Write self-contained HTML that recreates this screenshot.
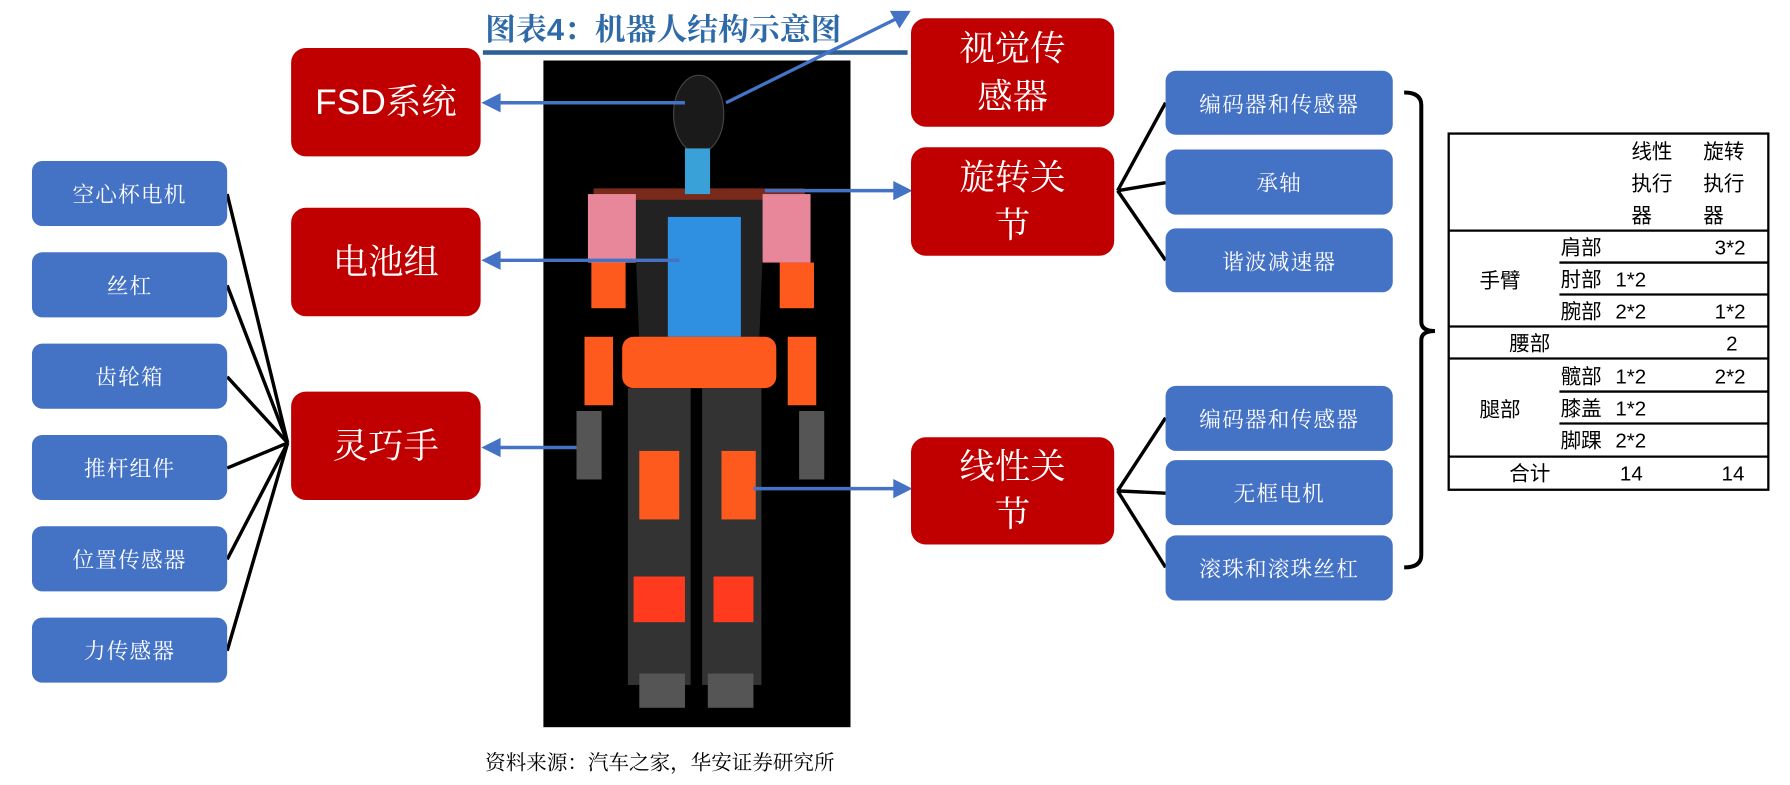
<!DOCTYPE html>
<html><head><meta charset="utf-8"><style>
html,body{margin:0;padding:0;background:#fff;width:1790px;height:785px;overflow:hidden}
#w{position:absolute;left:0;top:0;width:1568px;height:688px;transform:scale(1.1416);transform-origin:0 0;font-family:"Liberation Sans","Noto Sans CJK SC",sans-serif}
.r{position:absolute;background:#c00000;border-radius:13px;color:#fff;display:flex;align-items:center;justify-content:center;text-align:center;font-size:31px;line-height:42px;font-family:"Liberation Sans","Noto Serif CJK SC",sans-serif}
.b{position:absolute;background:#4472c4;border-radius:9px;color:#fff;display:flex;align-items:center;justify-content:center;font-size:19px;font-family:"Liberation Sans","Noto Serif CJK SC",sans-serif;letter-spacing:1px}
.t{position:absolute;font-size:18px;color:#000;line-height:24px}
</style></head><body><div id="w">
<div style="position:absolute;left:425px;top:4px;font-size:27px;font-weight:bold;color:#2e6aa8;font-family:'Liberation Sans','Noto Serif CJK SC',sans-serif;white-space:nowrap">图表4：机器人结构示意图</div>
<div style="position:absolute;left:423px;top:44px;width:372px;height:4px;background:#2e5f94"></div>
<svg style="position:absolute;left:0;top:0" width="1568" height="688">
<rect x="476" y="53" width="269" height="584" fill="#000"/>
<rect x="520" y="165" width="185" height="20" fill="#7a2a1a"/>
<path d="M555 175 L670 175 L665 300 L560 300 Z" fill="#222"/>
<ellipse cx="612" cy="100" rx="22" ry="34" fill="#1a1a1a" stroke="#444"/>
<rect x="600" y="130" width="22" height="40" fill="#3aa0d8"/>
<rect x="585" y="190" width="64" height="105" fill="#2f8fe0"/>
<rect x="515" y="170" width="42" height="60" fill="#e8869a"/>
<rect x="668" y="170" width="42" height="60" fill="#e8869a"/>
<rect x="518" y="230" width="30" height="40" fill="#ff5a1e"/>
<rect x="683" y="230" width="30" height="40" fill="#ff5a1e"/>
<rect x="512" y="295" width="25" height="60" fill="#ff5a1e"/>
<rect x="690" y="295" width="25" height="60" fill="#ff5a1e"/>
<rect x="505" y="360" width="22" height="60" fill="#555"/>
<rect x="700" y="360" width="22" height="60" fill="#555"/>
<rect x="545" y="295" width="135" height="45" rx="10" fill="#ff5a1e"/>
<rect x="550" y="340" width="55" height="260" fill="#333"/>
<rect x="615" y="340" width="52" height="260" fill="#333"/>
<rect x="560" y="395" width="35" height="60" fill="#ff5a1e"/>
<rect x="632" y="395" width="30" height="60" fill="#ff5a1e"/>
<rect x="555" y="505" width="45" height="40" fill="#ff3a1e"/>
<rect x="625" y="505" width="35" height="40" fill="#ff3a1e"/>
<rect x="560" y="590" width="40" height="30" fill="#555"/>
<rect x="620" y="590" width="40" height="30" fill="#555"/>
<g stroke="#4472c4" stroke-width="3" fill="#4472c4">
<line x1="600" y1="90" x2="435" y2="90"/><polygon points="425,90 437,84 437,96"/>
<line x1="636" y1="90" x2="786" y2="16"/><polygon points="795,11 782,11 788,22"/>
<line x1="670" y1="167" x2="785" y2="167"/><polygon points="796,167 784,161 784,173"/>
<line x1="595" y1="228" x2="435" y2="228"/><polygon points="425,228 437,222 437,234"/>
<line x1="505" y1="392" x2="435" y2="392"/><polygon points="425,392 437,386 437,398"/>
<line x1="660" y1="428" x2="785" y2="428"/><polygon points="796,428 784,422 784,434"/>
</g>
<g stroke="#000" stroke-width="3" fill="none">
<line x1="199" y1="170" x2="252" y2="388"/><line x1="199" y1="250" x2="252" y2="388"/>
<line x1="199" y1="330" x2="252" y2="388"/><line x1="199" y1="410" x2="252" y2="388"/>
<line x1="199" y1="490" x2="252" y2="388"/><line x1="199" y1="570" x2="252" y2="388"/>
<line x1="979" y1="167" x2="1021" y2="90"/><line x1="979" y1="167" x2="1021" y2="160"/><line x1="979" y1="167" x2="1021" y2="228"/>
<line x1="979" y1="430" x2="1021" y2="366"/><line x1="979" y1="430" x2="1021" y2="432"/><line x1="979" y1="430" x2="1021" y2="497"/>
<path d="M1230 81 Q1245 81 1245 92 L1245 282 Q1245 290 1257 290 Q1245 290 1245 298 L1245 486 Q1245 497 1230 497" stroke-width="3.5"/>
</g>
<g stroke="#000" stroke-width="2" fill="none">
<rect x="1269" y="117" width="280" height="312"/>
<line x1="1269" y1="202" x2="1549" y2="202"/>
<line x1="1366" y1="230" x2="1549" y2="230"/><line x1="1366" y1="258" x2="1549" y2="258"/>
<line x1="1269" y1="286" x2="1549" y2="286"/><line x1="1269" y1="314" x2="1549" y2="314"/>
<line x1="1366" y1="343" x2="1549" y2="343"/><line x1="1366" y1="371" x2="1549" y2="371"/>
<line x1="1269" y1="400" x2="1549" y2="400"/>
</g>
</svg>
<div class="r" style="left:255px;top:42px;width:166px;height:95px">FSD系统</div>
<div class="r" style="left:255px;top:182px;width:166px;height:95px">电池组</div>
<div class="r" style="left:255px;top:343px;width:166px;height:95px">灵巧手</div>
<div class="r" style="left:798px;top:16px;width:178px;height:95px">视觉传<br>感器</div>
<div class="r" style="left:798px;top:129px;width:178px;height:95px">旋转关<br>节</div>
<div class="r" style="left:798px;top:383px;width:178px;height:94px">线性关<br>节</div>
<div class="b" style="left:28px;top:141px;width:171px;height:57px">空心杯电机</div>
<div class="b" style="left:28px;top:221px;width:171px;height:57px">丝杠</div>
<div class="b" style="left:28px;top:301px;width:171px;height:57px">齿轮箱</div>
<div class="b" style="left:28px;top:381px;width:171px;height:57px">推杆组件</div>
<div class="b" style="left:28px;top:461px;width:171px;height:57px">位置传感器</div>
<div class="b" style="left:28px;top:541px;width:171px;height:57px">力传感器</div>
<div class="b" style="left:1021px;top:62px;width:199px;height:56px">编码器和传感器</div>
<div class="b" style="left:1021px;top:131px;width:199px;height:57px">承轴</div>
<div class="b" style="left:1021px;top:200px;width:199px;height:56px">谐波减速器</div>
<div class="b" style="left:1021px;top:338px;width:199px;height:57px">编码器和传感器</div>
<div class="b" style="left:1021px;top:403px;width:199px;height:57px">无框电机</div>
<div class="b" style="left:1021px;top:469px;width:199px;height:57px">滚珠和滚珠丝杠</div>
<div class="t" style="left:1429px;top:119px;line-height:28px">线性<br>执行<br>器</div>
<div class="t" style="left:1492px;top:119px;line-height:28px">旋转<br>执行<br>器</div>
<div class="t" style="left:1367px;top:205px">肩部</div><div class="t" style="left:1502px;top:205px">3*2</div>
<div class="t" style="left:1296px;top:234px">手臂</div>
<div class="t" style="left:1367px;top:233px">肘部</div><div class="t" style="left:1415px;top:233px">1*2</div>
<div class="t" style="left:1367px;top:261px">腕部</div><div class="t" style="left:1415px;top:261px">2*2</div><div class="t" style="left:1502px;top:261px">1*2</div>
<div class="t" style="left:1322px;top:289px">腰部</div><div class="t" style="left:1512px;top:289px">2</div>
<div class="t" style="left:1367px;top:318px">髋部</div><div class="t" style="left:1415px;top:318px">1*2</div><div class="t" style="left:1502px;top:318px">2*2</div>
<div class="t" style="left:1296px;top:347px">腿部</div>
<div class="t" style="left:1367px;top:346px">膝盖</div><div class="t" style="left:1415px;top:346px">1*2</div>
<div class="t" style="left:1367px;top:374px">脚踝</div><div class="t" style="left:1415px;top:374px">2*2</div>
<div class="t" style="left:1322px;top:403px">合计</div><div class="t" style="left:1419px;top:403px">14</div><div class="t" style="left:1508px;top:403px">14</div>
<div style="position:absolute;left:425px;top:654px;font-size:18px;color:#000;font-family:'Liberation Serif','Noto Serif CJK SC',serif;white-space:nowrap">资料来源：汽车之家，华安证券研究所</div>
</div></body></html>
